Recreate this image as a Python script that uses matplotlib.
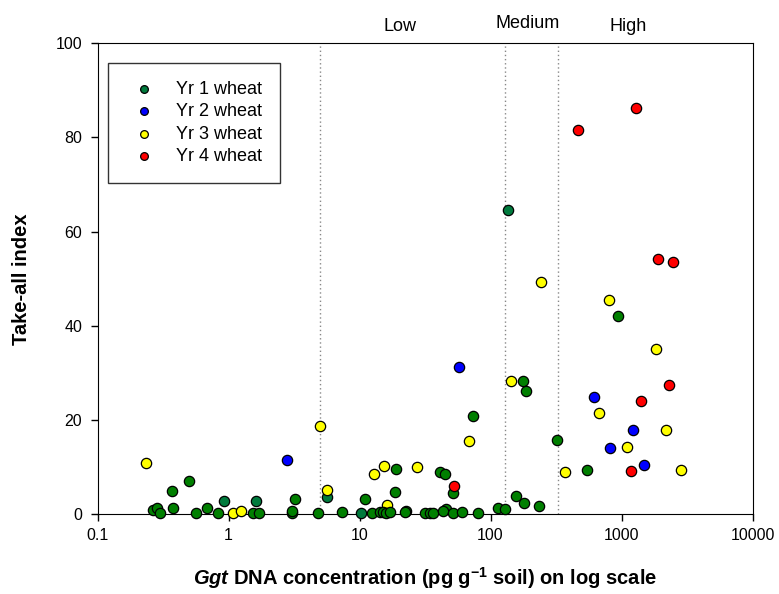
import matplotlib
matplotlib.use("Agg")
from matplotlib import pyplot as plt

plt.rcParams['font.family'] = ['Liberation Sans', 'DejaVu Sans']
plt.rcParams['mathtext.fontset'] = 'custom'
plt.rcParams['mathtext.rm'] = 'Liberation Sans:bold'
plt.rcParams['mathtext.it'] = 'Liberation Sans:bold:italic'
plt.rcParams['mathtext.bf'] = 'Liberation Sans:bold'

# Yr 1 wheat (legend colour)
yr1_x = [0.92, 1.62, 5.66, 10.2, 137]
yr1_y = [2.8, 2.8, 3.6, 0.2, 64.6]

# Yr 1 wheat, remaining sites
yr1b_x = [0.267, 0.286, 0.30, 0.372, 0.374, 0.502, 0.565, 0.689, 0.827, 1.53,
          1.72, 3.05, 3.05, 3.22, 4.78, 7.35, 11.1, 12.4, 14.3, 15.2,
          15.9, 17.1, 18.9, 18.6, 22.5, 22.2, 31.6, 34.5, 36.6, 41.1,
          45.2, 45.7, 43.4, 51.8, 52.0, 60.6, 73.1, 79.8, 115, 130,
          157, 181, 176, 187, 236, 322, 548, 946]
yr1b_y = [0.9, 1.3, 0.2, 5.0, 1.4, 7.1, 0.2, 1.4, 0.2, 0.35,
          0.35, 0.35, 0.6, 3.25, 0.2, 0.5, 3.3, 0.35, 0.4, 0.4,
          0.2, 0.5, 9.7, 4.7, 0.8, 0.5, 0.2, 0.2, 0.35, 9.0,
          8.5, 1.2, 0.6, 4.5, 0.35, 0.4, 20.9, 0.2, 1.3, 1.05,
          3.9, 2.3, 28.3, 26.2, 1.8, 15.8, 9.5, 42.1]

yr2_x = [2.78, 57, 620, 822, 1225, 1486]
yr2_y = [11.5, 31.2, 25.0, 14.1, 17.8, 10.4]

yr3_x = [0.233, 1.09, 1.24, 4.99, 5.62, 12.9, 15.5, 16.1, 27.6, 68.9,
         143, 244, 371, 670, 807, 1107, 1824, 2198, 2844]
yr3_y = [10.8, 0.2, 0.7, 18.8, 5.1, 8.5, 10.3, 1.9, 10.0, 15.6,
         28.4, 49.3, 9.0, 21.5, 45.5, 14.2, 35.1, 17.8, 9.5]

yr4_x = [53.0, 466, 1291, 1910, 2489, 1416, 2291, 1183]
yr4_y = [5.9, 81.5, 86.3, 54.3, 53.5, 24.0, 27.4, 9.1]

# risk category boundaries (pg/g soil)
bounds = [5.0, 130, 330]
bound_names = ["Low", "Medium", "High"]
name_x = [20.4, 193, 1120]
name_y = [103.5, 104.3, 103.5]

fig = plt.figure(figsize=(7.79, 5.94), dpi=100)
ax = fig.add_axes([0.1252, 0.1342, 0.8408, 0.7929])

kw = dict(s=55, edgecolors='black', linewidths=0.9, clip_on=False, zorder=3)
ax.scatter(yr1_x, yr1_y, c='#007A3D', label='Yr 1 wheat', **kw)
ax.scatter(yr2_x, yr2_y, c='#0000FF', label='Yr 2 wheat', **kw)
ax.scatter(yr3_x, yr3_y, c='#FFFF00', label='Yr 3 wheat', **kw)
ax.scatter(yr1b_x, yr1b_y, c='#007F00', **kw)
ax.scatter(yr4_x, yr4_y, c='#FF0000', label='Yr 4 wheat', **kw)

for b in bounds:
    ax.axvline(b, color='#888888', linestyle=(0, (1, 2)), linewidth=1, zorder=1)

for name, xx, yy in zip(bound_names, name_x, name_y):
    ax.text(xx, yy, name, ha='center', va='center', fontsize=13, clip_on=False)

ax.set_xscale('log')
ax.set_xlim(0.1, 10000)
ax.set_ylim(0, 100)
ax.set_xticks([0.1, 1, 10, 100, 1000, 10000])
ax.set_xticklabels(['0.1', '1', '10', '100', '1000', '10000'])
ax.minorticks_off()
ax.set_yticks([0, 20, 40, 60, 80, 100])
ax.tick_params(direction='out', length=5, width=1, labelsize=11.5)
ax.tick_params(axis='x', pad=5)
ax.tick_params(axis='y', pad=6)

ax.set_xlabel(r'$\mathit{Ggt}$ DNA concentration (pg g$^{\mathrm{-1}}$ soil) on log scale',
              fontsize=14.5, fontweight='bold', labelpad=16)
ax.set_ylabel('Take-all index', fontsize=14.5, fontweight='bold', labelpad=18)

leg = ax.legend(loc='upper left', bbox_to_anchor=(0.0165, 0.959), frameon=True,
                fancybox=False, edgecolor='black', fontsize=13,
                markerscale=0.75, handletextpad=0.76, borderpad=1.0,
                labelspacing=0.3, borderaxespad=0)
leg.get_frame().set_linewidth(1)

plt.savefig('out.png', dpi=100)
